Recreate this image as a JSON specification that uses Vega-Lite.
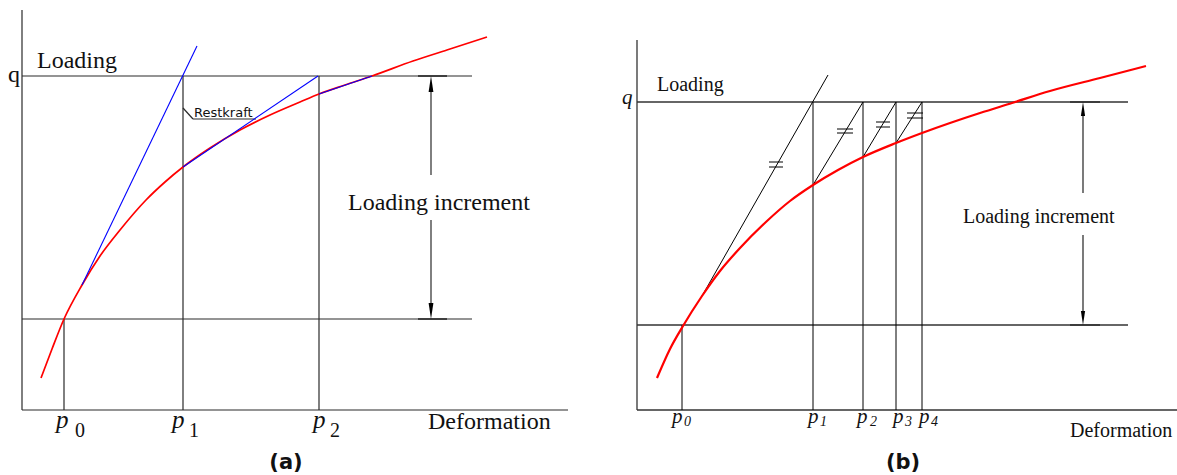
{
  "$schema": "https://vega.github.io/schema/vega-lite/v6.json",
  "background": "white",
  "padding": 0,
  "spacing": 0,
  "bounds": "flush",
  "config": {"view": {"stroke": null}},
  "resolve": {"scale": {"x": "independent", "y": "independent", "shape": "independent"}},
  "datasets": {
    "a_frame": [
      {"x": 0, "y": 0, "x2": 0, "y2": 400},
      {"x": 0, "y": 0, "x2": 546, "y2": 0},
      {"x": 0, "y": 334, "x2": 450, "y2": 334},
      {"x": 0, "y": 91, "x2": 450, "y2": 91},
      {"x": 42, "y": 0, "x2": 42, "y2": 91},
      {"x": 161, "y": 0, "x2": 161, "y2": 334},
      {"x": 297, "y": 0, "x2": 297, "y2": 334},
      {"x": 409, "y": 326, "x2": 409, "y2": 235},
      {"x": 409, "y": 190, "x2": 409, "y2": 99},
      {"x": 161, "y": 302, "x2": 171, "y2": 291},
      {"x": 171, "y": 291, "x2": 234, "y2": 291}
    ],
    "a_marks": [
      {"x": 396, "y": 334, "x2": 425, "y2": 334},
      {"x": 396, "y": 91, "x2": 425, "y2": 91}
    ],
    "a_curve": [
      {"x": 19, "y": 32}, {"x": 30, "y": 61}, {"x": 42, "y": 91}, {"x": 60, "y": 125},
      {"x": 78, "y": 154}, {"x": 98, "y": 180}, {"x": 124, "y": 210}, {"x": 143, "y": 228},
      {"x": 161, "y": 243}, {"x": 188, "y": 262}, {"x": 218, "y": 280}, {"x": 248, "y": 295},
      {"x": 278, "y": 308}, {"x": 297, "y": 316}, {"x": 323, "y": 325}, {"x": 350, "y": 334},
      {"x": 391, "y": 349}, {"x": 428, "y": 361}, {"x": 465, "y": 373}
    ],
    "a_tangents": [
      {"x": 60, "y": 125, "x2": 175, "y2": 364},
      {"x": 161, "y": 243, "x2": 296, "y2": 334},
      {"x": 297, "y": 316, "x2": 350, "y2": 334}
    ],
    "a_heads": [
      {"x": 409, "y": 326, "dir": "up"},
      {"x": 409, "y": 99, "dir": "down"}
    ],
    "a_text": [
      {"x": -14, "y": 328, "t": "q"},
      {"x": 15, "y": 342, "t": "Loading"},
      {"x": 326, "y": 200, "t": "Loading increment"},
      {"x": 406, "y": -19, "t": "Deformation"}
    ],
    "a_p": [
      {"x": 34, "y": -18, "t": "p"},
      {"x": 150, "y": -18, "t": "p"},
      {"x": 291, "y": -18, "t": "p"}
    ],
    "a_sub": [
      {"x": 53, "y": -27, "t": "0"},
      {"x": 167, "y": -27, "t": "1"},
      {"x": 308, "y": -27, "t": "2"}
    ],
    "b_axes": [
      {"x": 0, "y": 0, "x2": 0, "y2": 370},
      {"x": 0, "y": 0, "x2": 540, "y2": 0},
      {"x": 0, "y": 308, "x2": 491, "y2": 308},
      {"x": 0, "y": 85, "x2": 491, "y2": 85},
      {"x": 446, "y": 300, "x2": 446, "y2": 217},
      {"x": 446, "y": 175, "x2": 446, "y2": 92}
    ],
    "b_lines": [
      {"x": 45, "y": 0, "x2": 45, "y2": 85},
      {"x": 176, "y": 0, "x2": 176, "y2": 308},
      {"x": 226, "y": 0, "x2": 226, "y2": 308},
      {"x": 259, "y": 0, "x2": 259, "y2": 308},
      {"x": 285, "y": 0, "x2": 285, "y2": 308},
      {"x": 65, "y": 114, "x2": 191, "y2": 335},
      {"x": 176, "y": 225, "x2": 226, "y2": 308},
      {"x": 226, "y": 253, "x2": 259, "y2": 308},
      {"x": 259, "y": 267, "x2": 285, "y2": 308},
      {"x": 132, "y": 248, "x2": 146, "y2": 248},
      {"x": 132, "y": 243, "x2": 146, "y2": 243},
      {"x": 200, "y": 281, "x2": 216, "y2": 281},
      {"x": 200, "y": 277, "x2": 216, "y2": 277},
      {"x": 239, "y": 288, "x2": 253, "y2": 288},
      {"x": 239, "y": 283, "x2": 253, "y2": 283},
      {"x": 270, "y": 297, "x2": 286, "y2": 297},
      {"x": 270, "y": 292, "x2": 286, "y2": 292}
    ],
    "b_marks": [
      {"x": 433, "y": 308, "x2": 463, "y2": 308},
      {"x": 433, "y": 85, "x2": 463, "y2": 85}
    ],
    "b_curve": [
      {"x": 20, "y": 32}, {"x": 33, "y": 61}, {"x": 46, "y": 84}, {"x": 65, "y": 114},
      {"x": 83, "y": 139}, {"x": 103, "y": 162}, {"x": 130, "y": 189}, {"x": 153, "y": 209},
      {"x": 176, "y": 225}, {"x": 201, "y": 240}, {"x": 226, "y": 253}, {"x": 259, "y": 267},
      {"x": 285, "y": 277}, {"x": 313, "y": 287}, {"x": 343, "y": 297}, {"x": 375, "y": 307},
      {"x": 413, "y": 319}, {"x": 463, "y": 332}, {"x": 509, "y": 344}
    ],
    "b_heads": [
      {"x": 446, "y": 301, "dir": "up"},
      {"x": 446, "y": 92, "dir": "down"}
    ],
    "b_text": [
      {"x": 20, "y": 319, "t": "Loading"},
      {"x": 326, "y": 187, "t": "Loading increment"},
      {"x": 433, "y": -27, "t": "Deformation"}
    ],
    "b_it": [
      {"x": -15, "y": 306, "t": "q"},
      {"x": 35, "y": -13, "t": "p"},
      {"x": 171, "y": -13, "t": "p"},
      {"x": 220, "y": -13, "t": "p"},
      {"x": 256, "y": -13, "t": "p"},
      {"x": 282, "y": -13, "t": "p"}
    ],
    "b_sub": [
      {"x": 47, "y": -16, "t": "0"},
      {"x": 183, "y": -16, "t": "1"},
      {"x": 233, "y": -16, "t": "2"},
      {"x": 268, "y": -16, "t": "3"},
      {"x": 294, "y": -16, "t": "4"}
    ]
  },
  "hconcat": [
    {
      "width": 595,
      "height": 475,
      "encoding": {
        "x": {"field": "x", "type": "quantitative", "scale": {"domain": [-22, 573], "nice": false, "zero": false}, "axis": null},
        "y": {"field": "y", "type": "quantitative", "scale": {"domain": [-65, 410], "nice": false, "zero": false}, "axis": null}
      },
      "layer": [
        {
          "data": {"name": "a_frame"},
          "mark": {"type": "rule", "color": "#2b2b2b", "strokeWidth": 1.2},
          "encoding": {"x2": {"field": "x2"}, "y2": {"field": "y2"}}
        },
        {
          "data": {"name": "a_marks"},
          "mark": {"type": "rule", "color": "#3a3a3a", "strokeWidth": 1.9},
          "encoding": {"x2": {"field": "x2"}, "y2": {"field": "y2"}}
        },
        {
          "data": {"name": "a_curve"},
          "mark": {"type": "line", "color": "#ff0000", "strokeWidth": 1.7, "interpolate": "monotone"}
        },
        {
          "data": {"name": "a_tangents"},
          "mark": {"type": "rule", "color": "#0000ff", "strokeWidth": 1.1},
          "encoding": {"x2": {"field": "x2"}, "y2": {"field": "y2"}}
        },
        {
          "data": {"name": "a_heads"},
          "mark": {"type": "point", "filled": true, "color": "#000000", "opacity": 1, "size": 256, "strokeWidth": 0},
          "encoding": {
            "shape": {"field": "dir", "type": "nominal", "scale": {"domain": ["up", "down"], "range": ["M0,-1L0.3,1L-0.3,1Z", "M0,1L0.3,-1L-0.3,-1Z"]}, "legend": null}
          }
        },
        {
          "data": {"name": "a_text"},
          "mark": {"type": "text", "font": "Liberation Serif", "fontSize": 24, "align": "left", "baseline": "alphabetic", "color": "#111111"},
          "encoding": {"text": {"field": "t"}}
        },
        {
          "data": {"name": "a_p"},
          "mark": {"type": "text", "font": "Liberation Serif", "fontStyle": "italic", "fontSize": 25, "align": "left", "baseline": "alphabetic", "color": "#111111"},
          "encoding": {"text": {"field": "t"}}
        },
        {
          "data": {"name": "a_sub"},
          "mark": {"type": "text", "font": "Liberation Serif", "fontSize": 20, "align": "left", "baseline": "alphabetic", "color": "#111111"},
          "encoding": {"text": {"field": "t"}}
        },
        {
          "data": {"values": [{"x": 172, "y": 293, "t": "Restkraft"}]},
          "mark": {"type": "text", "font": "DejaVu Sans", "fontSize": 13, "align": "left", "baseline": "alphabetic", "color": "#111111"},
          "encoding": {"text": {"field": "t"}}
        },
        {
          "data": {"values": [{"x": 264, "y": -59, "t": "(a)"}]},
          "mark": {"type": "text", "font": "DejaVu Sans", "fontWeight": "bold", "fontSize": 21, "align": "center", "baseline": "alphabetic", "color": "#111111"},
          "encoding": {"text": {"field": "t"}}
        }
      ]
    },
    {
      "width": 582,
      "height": 475,
      "encoding": {
        "x": {"field": "x", "type": "quantitative", "scale": {"domain": [-42, 540], "nice": false, "zero": false}, "axis": null},
        "y": {"field": "y", "type": "quantitative", "scale": {"domain": [-65, 410], "nice": false, "zero": false}, "axis": null}
      },
      "layer": [
        {
          "data": {"name": "b_axes"},
          "mark": {"type": "rule", "color": "#333333", "strokeWidth": 1.3},
          "encoding": {"x2": {"field": "x2"}, "y2": {"field": "y2"}}
        },
        {
          "data": {"name": "b_lines"},
          "mark": {"type": "rule", "color": "#000000", "strokeWidth": 1},
          "encoding": {"x2": {"field": "x2"}, "y2": {"field": "y2"}}
        },
        {
          "data": {"name": "b_marks"},
          "mark": {"type": "rule", "color": "#3a3a3a", "strokeWidth": 1.9},
          "encoding": {"x2": {"field": "x2"}, "y2": {"field": "y2"}}
        },
        {
          "data": {"name": "b_curve"},
          "mark": {"type": "line", "color": "#ff0000", "strokeWidth": 2.2, "interpolate": "monotone"}
        },
        {
          "data": {"name": "b_heads"},
          "mark": {"type": "point", "filled": true, "color": "#000000", "opacity": 1, "size": 196, "strokeWidth": 0},
          "encoding": {
            "shape": {"field": "dir", "type": "nominal", "scale": {"domain": ["up", "down"], "range": ["M0,-1L0.3,1L-0.3,1Z", "M0,1L0.3,-1L-0.3,-1Z"]}, "legend": null}
          }
        },
        {
          "data": {"name": "b_text"},
          "mark": {"type": "text", "font": "Liberation Serif", "fontSize": 20, "align": "left", "baseline": "alphabetic", "color": "#111111"},
          "encoding": {"text": {"field": "t"}}
        },
        {
          "data": {"name": "b_it"},
          "mark": {"type": "text", "font": "Liberation Serif", "fontStyle": "italic", "fontSize": 21, "align": "left", "baseline": "alphabetic", "color": "#111111"},
          "encoding": {"text": {"field": "t"}}
        },
        {
          "data": {"name": "b_sub"},
          "mark": {"type": "text", "font": "Liberation Serif", "fontStyle": "italic", "fontSize": 14, "align": "left", "baseline": "alphabetic", "color": "#111111"},
          "encoding": {"text": {"field": "t"}}
        },
        {
          "data": {"values": [{"x": 266, "y": -59, "t": "(b)"}]},
          "mark": {"type": "text", "font": "DejaVu Sans", "fontWeight": "bold", "fontSize": 21, "align": "center", "baseline": "alphabetic", "color": "#111111"},
          "encoding": {"text": {"field": "t"}}
        }
      ]
    }
  ]
}
